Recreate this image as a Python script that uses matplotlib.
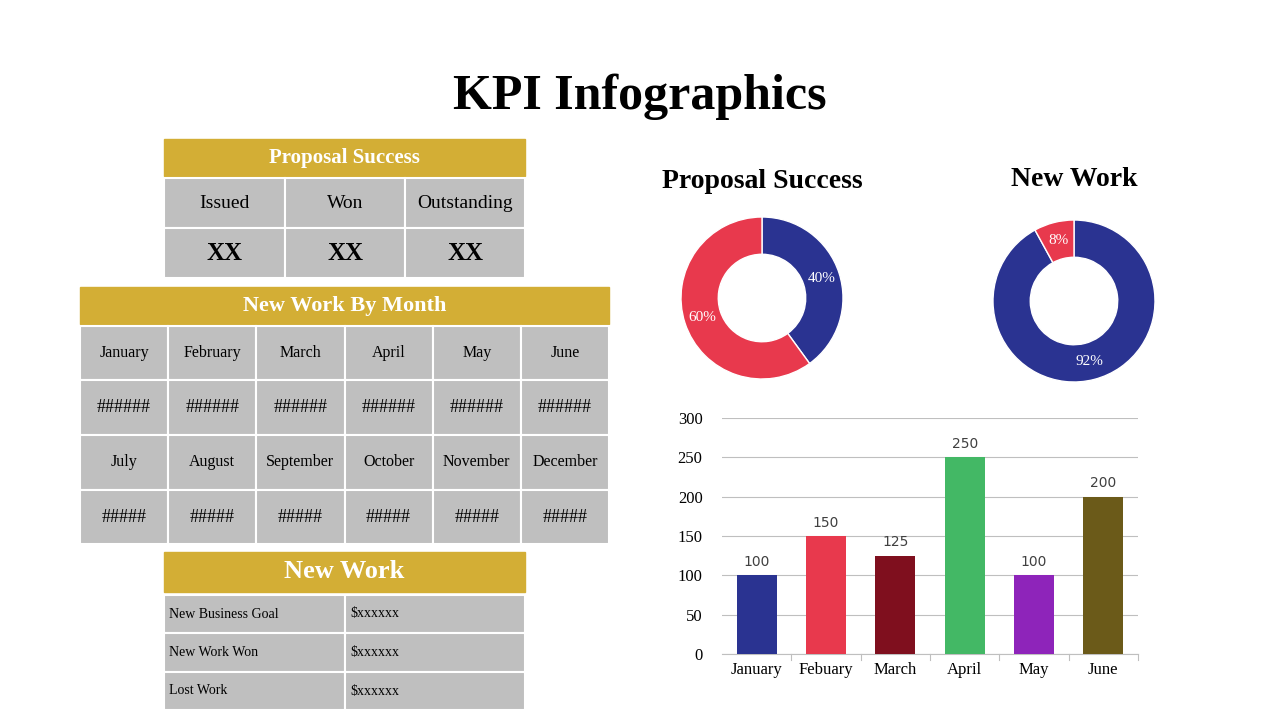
import matplotlib.pyplot as plt
from matplotlib.patches import Rectangle

plt.rcParams["font.family"] = "Liberation Serif"

GOLD = "#D3AE35"
GRAY = "#BFBFBF"
BLUE = "#2A3391"
RED = "#E8394D"

prop_cols = ["Issued", "Won", "Outstanding"]
prop_vals = ["XX", "XX", "XX"]
months_1 = ["January", "February", "March", "April", "May", "June"]
months_2 = ["July", "August", "September", "October", "November", "December"]
new_work_rows = ["New Business Goal", "New Work Won", "Lost Work"]
new_work_vals = ["$xxxxxx", "$xxxxxx", "$xxxxxx"]

proposal_share = [40, 60]
newwork_share = [92, 8]

bar_months = ["January", "Febuary", "March", "April", "May", "June"]
bar_values = [100, 150, 125, 250, 100, 200]
bar_colors = [BLUE, RED, "#7F0F1E", "#43B865", "#8E24BA", "#6B5A19"]

fig = plt.figure(figsize=(12.8, 7.2), dpi=100)
ov = fig.add_axes([0, 0, 1, 1])
ov.set_xlim(0, 1280)
ov.set_ylim(720, 0)
ov.axis("off")

ov.text(640, 97, "KPI Infographics", ha="center", va="center", fontsize=36, fontweight="bold")


def header(x0, x1, y0, y1, text, size):
    ov.add_patch(Rectangle((x0, y0), x1 - x0, y1 - y0, color=GOLD))
    ov.text((x0 + x1) / 2, (y0 + y1) / 2, text, ha="center", va="center",
            color="white", fontsize=size, fontweight="bold")


def cell(x0, x1, y0, y1, text, size, bold=False, ha="center"):
    ov.add_patch(Rectangle((x0, y0), x1 - x0, y1 - y0, facecolor=GRAY,
                           edgecolor="white", linewidth=1.5))
    tx = (x0 + x1) / 2 if ha == "center" else x0 + 5
    ov.text(tx, (y0 + y1) / 2, text, ha=ha, va="center", fontsize=size,
            fontweight="bold" if bold else "normal")


# table 1
header(164, 525, 139, 176, "Proposal Success", 15)
xs = [164, 285, 405, 525]
for i in range(3):
    cell(xs[i], xs[i + 1], 178, 228, prop_cols[i], 14)
    cell(xs[i], xs[i + 1], 228, 278, prop_vals[i], 18, bold=True)

# table 2
header(80, 609, 287, 324, "New Work By Month", 16)
w = (609 - 80) / 6
rows = [(326, 380, months_1, 11.5), (380, 435, ["######"] * 6, 13),
        (435, 490, months_2, 11.5), (490, 544, ["#####"] * 6, 13)]
for y0, y1, labels, fs in rows:
    for i, lab in enumerate(labels):
        cell(80 + i * w, 80 + (i + 1) * w, y0, y1, lab, fs)

# table 3
header(164, 525, 552, 592, "New Work", 19)
ys = [595, 633, 672, 710]
for i in range(3):
    cell(164, 345, ys[i], ys[i + 1], new_work_rows[i], 10, ha="left")
    cell(345, 525, ys[i], ys[i + 1], new_work_vals[i], 10, ha="left")


# donuts
def donut(cx, cy, vals, colors, title, ty):
    r = 81
    ax = fig.add_axes([(cx - r) / 1280, (720 - cy - r) / 720, 2 * r / 1280, 2 * r / 720])
    ax.pie(vals, colors=colors, startangle=90, counterclock=False,
           wedgeprops=dict(width=0.46, edgecolor="white", linewidth=1),
           autopct="%d%%", pctdistance=0.77,
           textprops=dict(color="white", fontsize=11))
    ax.set_xlim(-1, 1)
    ax.set_ylim(-1, 1)
    ov.text(cx, ty, title, ha="center", va="center", fontsize=20, fontweight="bold")


donut(762, 298, proposal_share, [BLUE, RED], "Proposal Success", 182)
donut(1074, 301, newwork_share, [BLUE, RED], "New Work", 179)

# bar chart
bx = fig.add_axes([722 / 1280, (720 - 654) / 720, (1138 - 722) / 1280, (654 - 418) / 720])
pos = range(len(bar_months))
bars = bx.bar(pos, bar_values, color=bar_colors, width=0.58, zorder=3)
for p, v in zip(pos, bar_values):
    bx.text(p, v + 8, str(v), ha="center", va="bottom", fontsize=10,
            fontfamily="DejaVu Sans", color="#404040")
bx.set_ylim(0, 300)
bx.set_xlim(-0.5, 5.5)
bx.set_yticks(range(0, 301, 50))
bx.set_xticks(list(pos))
bx.set_xticklabels(bar_months, fontsize=12)
bx.tick_params(axis="y", labelsize=12, length=0, pad=14)
bx.tick_params(axis="x", length=0, pad=6)
bx.grid(axis="y", color="#BFBFBF", linewidth=0.8, zorder=0)
for s in ["top", "right", "left"]:
    bx.spines[s].set_visible(False)
bx.spines["bottom"].set_color("#BFBFBF")
for b in [0.5, 1.5, 2.5, 3.5, 4.5, 5.5]:
    bx.plot([b, b], [0, -7], color="#BFBFBF", lw=0.8, clip_on=False)

fig.savefig("out.png", dpi=100)
